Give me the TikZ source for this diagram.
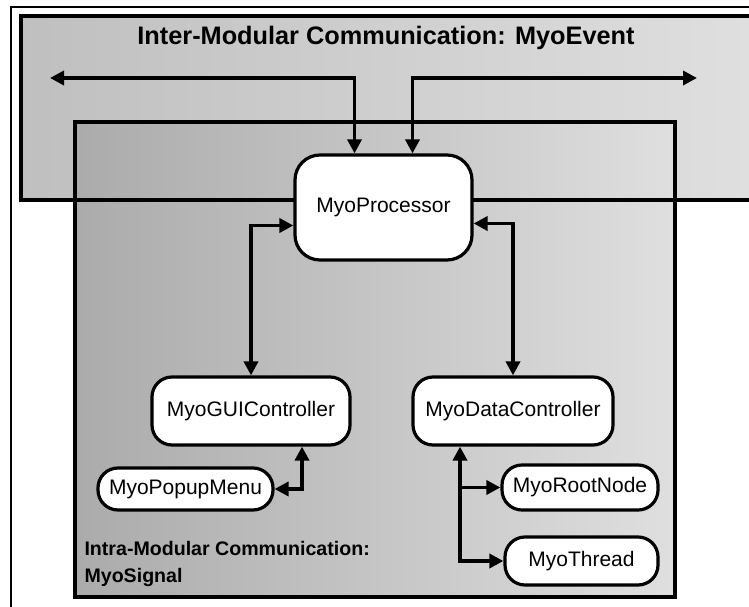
\documentclass[tikz,border=0pt]{standalone}
\usepackage{fontspec}
\setmainfont{Liberation Sans}
\usetikzlibrary{arrows.meta,positioning}
\tikzset{
  module/.style = {draw, line width=3.2pt, fill=white, rounded corners=20pt, inner sep=0pt,
                   font=\fontsize{21}{24}\selectfont},
  link/.style   = {line width=3.8pt, {Triangle[length=14pt,width=14pt]}-{Triangle[length=14pt,width=14pt]}},
  tolink/.style = {line width=3.8pt, -{Triangle[length=14pt,width=14pt]}},
  region/.style = {line width=3.2pt},
}
\begin{document}
\begin{tikzpicture}[x=1pt,y=1pt]
  \useasboundingbox (0,0) rectangle (749,607);
  \clip (0,0) rectangle (749,607);
  % frame and the two communication regions
  \draw[line width=1.4pt] (11,0) -- (11,600) -- (752,600);
  \fill[left color=gray!50, right color=gray!25] (21,407) rectangle (752,591);
  \fill[left color=gray!66, right color=gray!25] (75,10) rectangle (675,485);
  \draw[region] (21,407) rectangle (752,591);
  \draw[region] (75,10) rectangle (675,485);
  \node[font=\bfseries\fontsize{25.3}{29}\selectfont] (event) at (386,569)
    {Inter-Modular Communication: MyoEvent};
  \node[font=\bfseries\fontsize{19.6}{27}\selectfont, align=left, anchor=west] (signal) at (81,43.5)
    {Intra-Modular Communication:\\MyoSignal};
  % modules
  \node[module, rounded corners=25pt, minimum width=177pt, minimum height=105pt] (proc) at (383.5,399.5) {MyoProcessor};
  \node[module, minimum width=198pt, minimum height=68pt] (gui) at (251,196) {MyoGUIController};
  \node[module, minimum width=200pt, minimum height=68pt] (data) at (513,196) {MyoDataController};
  \node[module, minimum width=175pt, minimum height=42pt] (popup) at (185.5,118) {MyoPopupMenu};
  \node[module, minimum width=156pt, minimum height=45pt] (root) at (580,119.5) {MyoRootNode};
  \node[module, minimum width=153pt, minimum height=48pt] (thread) at (581.5,46) {MyoThread};
  \coordinate (evL) at (50,529);
  \coordinate (evR) at (697,529);
  % connectors
  \draw[link] (evL) -| ([xshift=-29pt]proc.north);
  \draw[link] (evR) -| ([xshift=29pt]proc.north);
  \draw[link] ([yshift=-18pt]proc.west) -| (gui.north);
  \draw[link] ([yshift=-16pt]proc.east) -| (data.north);
  \draw[link] (popup.east) -| ([xshift=51pt]gui.south);
  \draw[link] ([xshift=-53pt]data.south) |- (thread.west);
  \draw[tolink] ([xshift=-53pt]data.south |- root.west) -- (root.west);
\end{tikzpicture}
\end{document}
